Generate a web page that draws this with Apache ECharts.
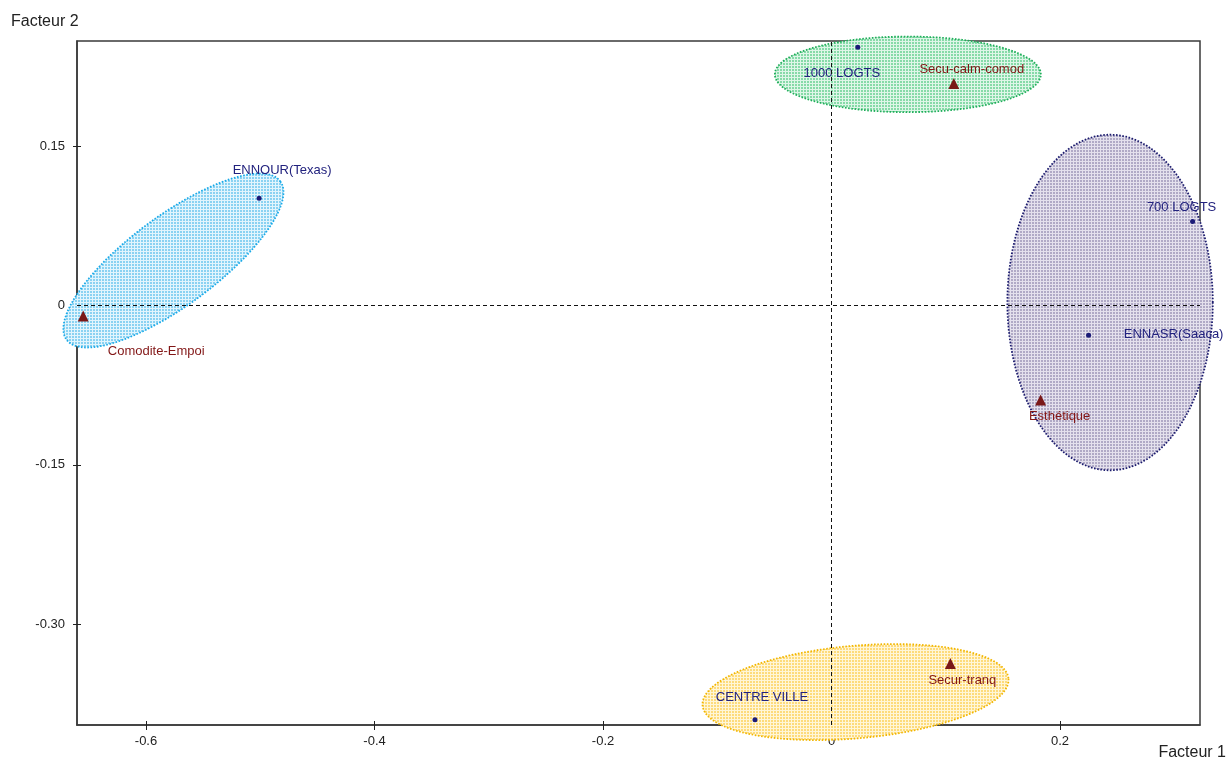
<!DOCTYPE html>
<html>
<head>
<meta charset="utf-8">
<script src="https://cdn.jsdelivr.net/npm/echarts@6/dist/echarts.min.js"></script>
<style>
  html, body { margin: 0; padding: 0; background: #ffffff; }
  #chart { width: 1226px; height: 769px; }
</style>
</head>
<body>
<div id="chart"></div>
<script>
// Modalités (points bleus) : coordonnées sur les facteurs 1 et 2
const modalites = ['1000 LOGTS', 'ENNOUR(Texas)', '700 LOGTS', 'ENNASR(Saaca)', 'CENTRE VILLE'];
const modF1 = [0.023, -0.501, 0.316, 0.225, -0.067];
const modF2 = [0.243, 0.101, 0.079, -0.028, -0.390];

// Critères (triangles rouges)
const criteres = ['Secu-calm-comod', 'Comodite-Empoi', 'Esthétique', 'Secur-tranq'];
const critF1 = [0.107, -0.655, 0.183, 0.104];
const critF2 = [0.209, -0.010, -0.089, -0.337];

// Regroupements : centre et demi-axes (vecteurs) des ellipses, en unités des facteurs
const groupes = ['ENNOUR', '1000 LOGTS', '700 LOGTS', 'CENTRE VILLE'];
const ellCx = [-0.576, 0.0668, 0.2438, 0.021];
const ellCy = [0.0423, 0.2176, 0.0028, -0.364];
const ellAx = [0.0935, 0.1164, 0.0899, 0.1339];
const ellAy = [0.0746, 0, 0, 0.0126];
const ellBx = [0.0232, 0, 0, 0.0035];
const ellBy = [-0.0338, 0.0356, 0.158, -0.0434];

// Graduations
const xTicks = [-0.6, -0.4, -0.2, 0, 0.2];
const yTicks = [-0.30, -0.15, 0, 0.15];

// Décalage des étiquettes par rapport aux marqueurs (pixels)
const labelOffsets = {
  '1000 LOGTS': [-16, 26],
  'ENNOUR(Texas)': [23, -28],
  '700 LOGTS': [-11, -14],
  'ENNASR(Saaca)': [85, -1],
  'CENTRE VILLE': [7, -22],
  'Secu-calm-comod': [18, -14],
  'Comodite-Empoi': [73, 35],
  'Esthétique': [19, 16],
  'Secur-tranq': [12, 17]
};

// Styles des ellipses : couleur de trame, couleur des lignes claires, bordure pointillée
const ellStyles = [
  { base: '#8ad2f2', light: '#e2f5fd', stroke: '#1aaae8' },
  { base: '#86daa8', light: '#def6e8', stroke: '#1fae5a' },
  { base: '#b0aac6', light: '#e4e1ed', stroke: '#1c1c6e' },
  { base: '#fddb7c', light: '#fff6d8', stroke: '#f2b600' }
];

function makePattern(base, light) {
  const c = document.createElement('canvas');
  c.width = 3; c.height = 3;
  const g = c.getContext('2d');
  g.fillStyle = light;
  g.fillRect(0, 0, 3, 3);
  g.fillStyle = base;
  g.fillRect(0, 0, 2, 2);
  return { image: c, repeat: 'repeat' };
}
const patterns = ellStyles.map(s => makePattern(s.base, s.light));

const FONT = '"Liberation Sans", Arial, sans-serif';

const chart = echarts.init(document.getElementById('chart'));

const modData = modalites.map((n, i) => ({
  name: n,
  value: [modF1[i], modF2[i]],
  label: { offset: labelOffsets[n] }
}));
const critData = criteres.map((n, i) => ({
  name: n,
  value: [critF1[i], critF2[i]],
  label: { offset: labelOffsets[n] }
}));

const baseAxis = {
  type: 'value',
  splitLine: { show: false },
  axisLine: { show: true, onZero: false, lineStyle: { color: '#3a3a3a', width: 1.5 } }
};

chart.setOption({
  animation: false,
  backgroundColor: '#ffffff',
  grid: {
    left: 77, right: 26, top: 41, bottom: 44,
    show: true, borderColor: '#3a3a3a', borderWidth: 1.5,
    containLabel: false, outerBoundsMode: 'none'
  },
  xAxis: [
    Object.assign({}, baseAxis, {
      min: -0.6604, max: 0.3225, position: 'bottom',
      axisTick: { show: true, length: 5, customValues: xTicks, lineStyle: { color: '#222', width: 1 } },
      axisLabel: {
        customValues: xTicks, margin: 10, color: '#222', fontSize: 13, fontFamily: FONT,
        formatter: v => (v === 0 ? '0' : v.toFixed(1))
      }
    }),
    Object.assign({}, baseAxis, {
      min: -0.6604, max: 0.3225, position: 'bottom',
      axisLine: { show: false, onZero: false },
      axisTick: { show: true, inside: true, length: 4, customValues: xTicks, lineStyle: { color: '#222', width: 1 } },
      axisLabel: { show: false }
    })
  ],
  yAxis: [
    Object.assign({}, baseAxis, {
      min: -0.395, max: 0.249, position: 'left',
      axisTick: { show: true, length: 4, customValues: yTicks, lineStyle: { color: '#222', width: 1 } },
      axisLabel: {
        customValues: yTicks, margin: 12, color: '#222', fontSize: 13, fontFamily: FONT,
        formatter: v => (v === 0 ? '0' : v.toFixed(2))
      }
    }),
    Object.assign({}, baseAxis, {
      min: -0.395, max: 0.249, position: 'left',
      axisLine: { show: false, onZero: false },
      axisTick: { show: true, inside: true, length: 4, customValues: yTicks, lineStyle: { color: '#222', width: 1 } },
      axisLabel: { show: false }
    })
  ],
  graphic: [
    { type: 'text', left: 11, top: 14, style: { text: 'Facteur 2', fill: '#222', font: '16px ' + FONT } },
    { type: 'text', right: 0, top: 745, style: { text: 'Facteur 1', fill: '#222', font: '16px ' + FONT } }
  ],
  series: [
    {
      type: 'custom',
      name: 'Regroupements',
      z: 1,
      clip: false,
      silent: true,
      data: groupes.map((g, i) => ({ name: g, value: [ellCx[i], ellCy[i]] })),
      renderItem: function (params, api) {
        const i = params.dataIndex;
        const pts = [];
        const n = 120;
        for (let k = 0; k < n; k++) {
          const t = (k / n) * Math.PI * 2;
          const c = Math.cos(t), s = Math.sin(t);
          pts.push(api.coord([
            ellCx[i] + ellAx[i] * c + ellBx[i] * s,
            ellCy[i] + ellAy[i] * c + ellBy[i] * s
          ]));
        }
        return {
          type: 'polygon',
          shape: { points: pts },
          style: {
            fill: patterns[i],
            stroke: ellStyles[i].stroke,
            lineWidth: 1.8,
            lineDash: [1.6, 1.6]
          }
        };
      }
    },
    {
      type: 'scatter',
      name: 'Modalités',
      z: 3,
      symbol: 'circle',
      symbolSize: 5,
      itemStyle: { color: '#1a1a78', opacity: 1 },
      label: {
        show: true, position: 'inside', formatter: '{b}',
        color: '#22227e', fontSize: 13, fontFamily: FONT,
        align: 'center', verticalAlign: 'middle'
      },
      data: modData,
      markLine: {
        silent: true,
        symbol: 'none',
        label: { show: false },
        lineStyle: { color: '#111', width: 1, type: [4, 3] },
        data: [{ xAxis: 0 }, { yAxis: 0 }]
      }
    },
    {
      type: 'scatter',
      name: 'Critères',
      z: 3,
      symbol: 'triangle',
      symbolSize: 11,
      itemStyle: { color: '#7a1818', opacity: 1 },
      label: {
        show: true, position: 'inside', formatter: '{b}',
        color: '#821616', fontSize: 13, fontFamily: FONT,
        align: 'center', verticalAlign: 'middle'
      },
      data: critData
    }
  ]
});
</script>
</body>
</html>
